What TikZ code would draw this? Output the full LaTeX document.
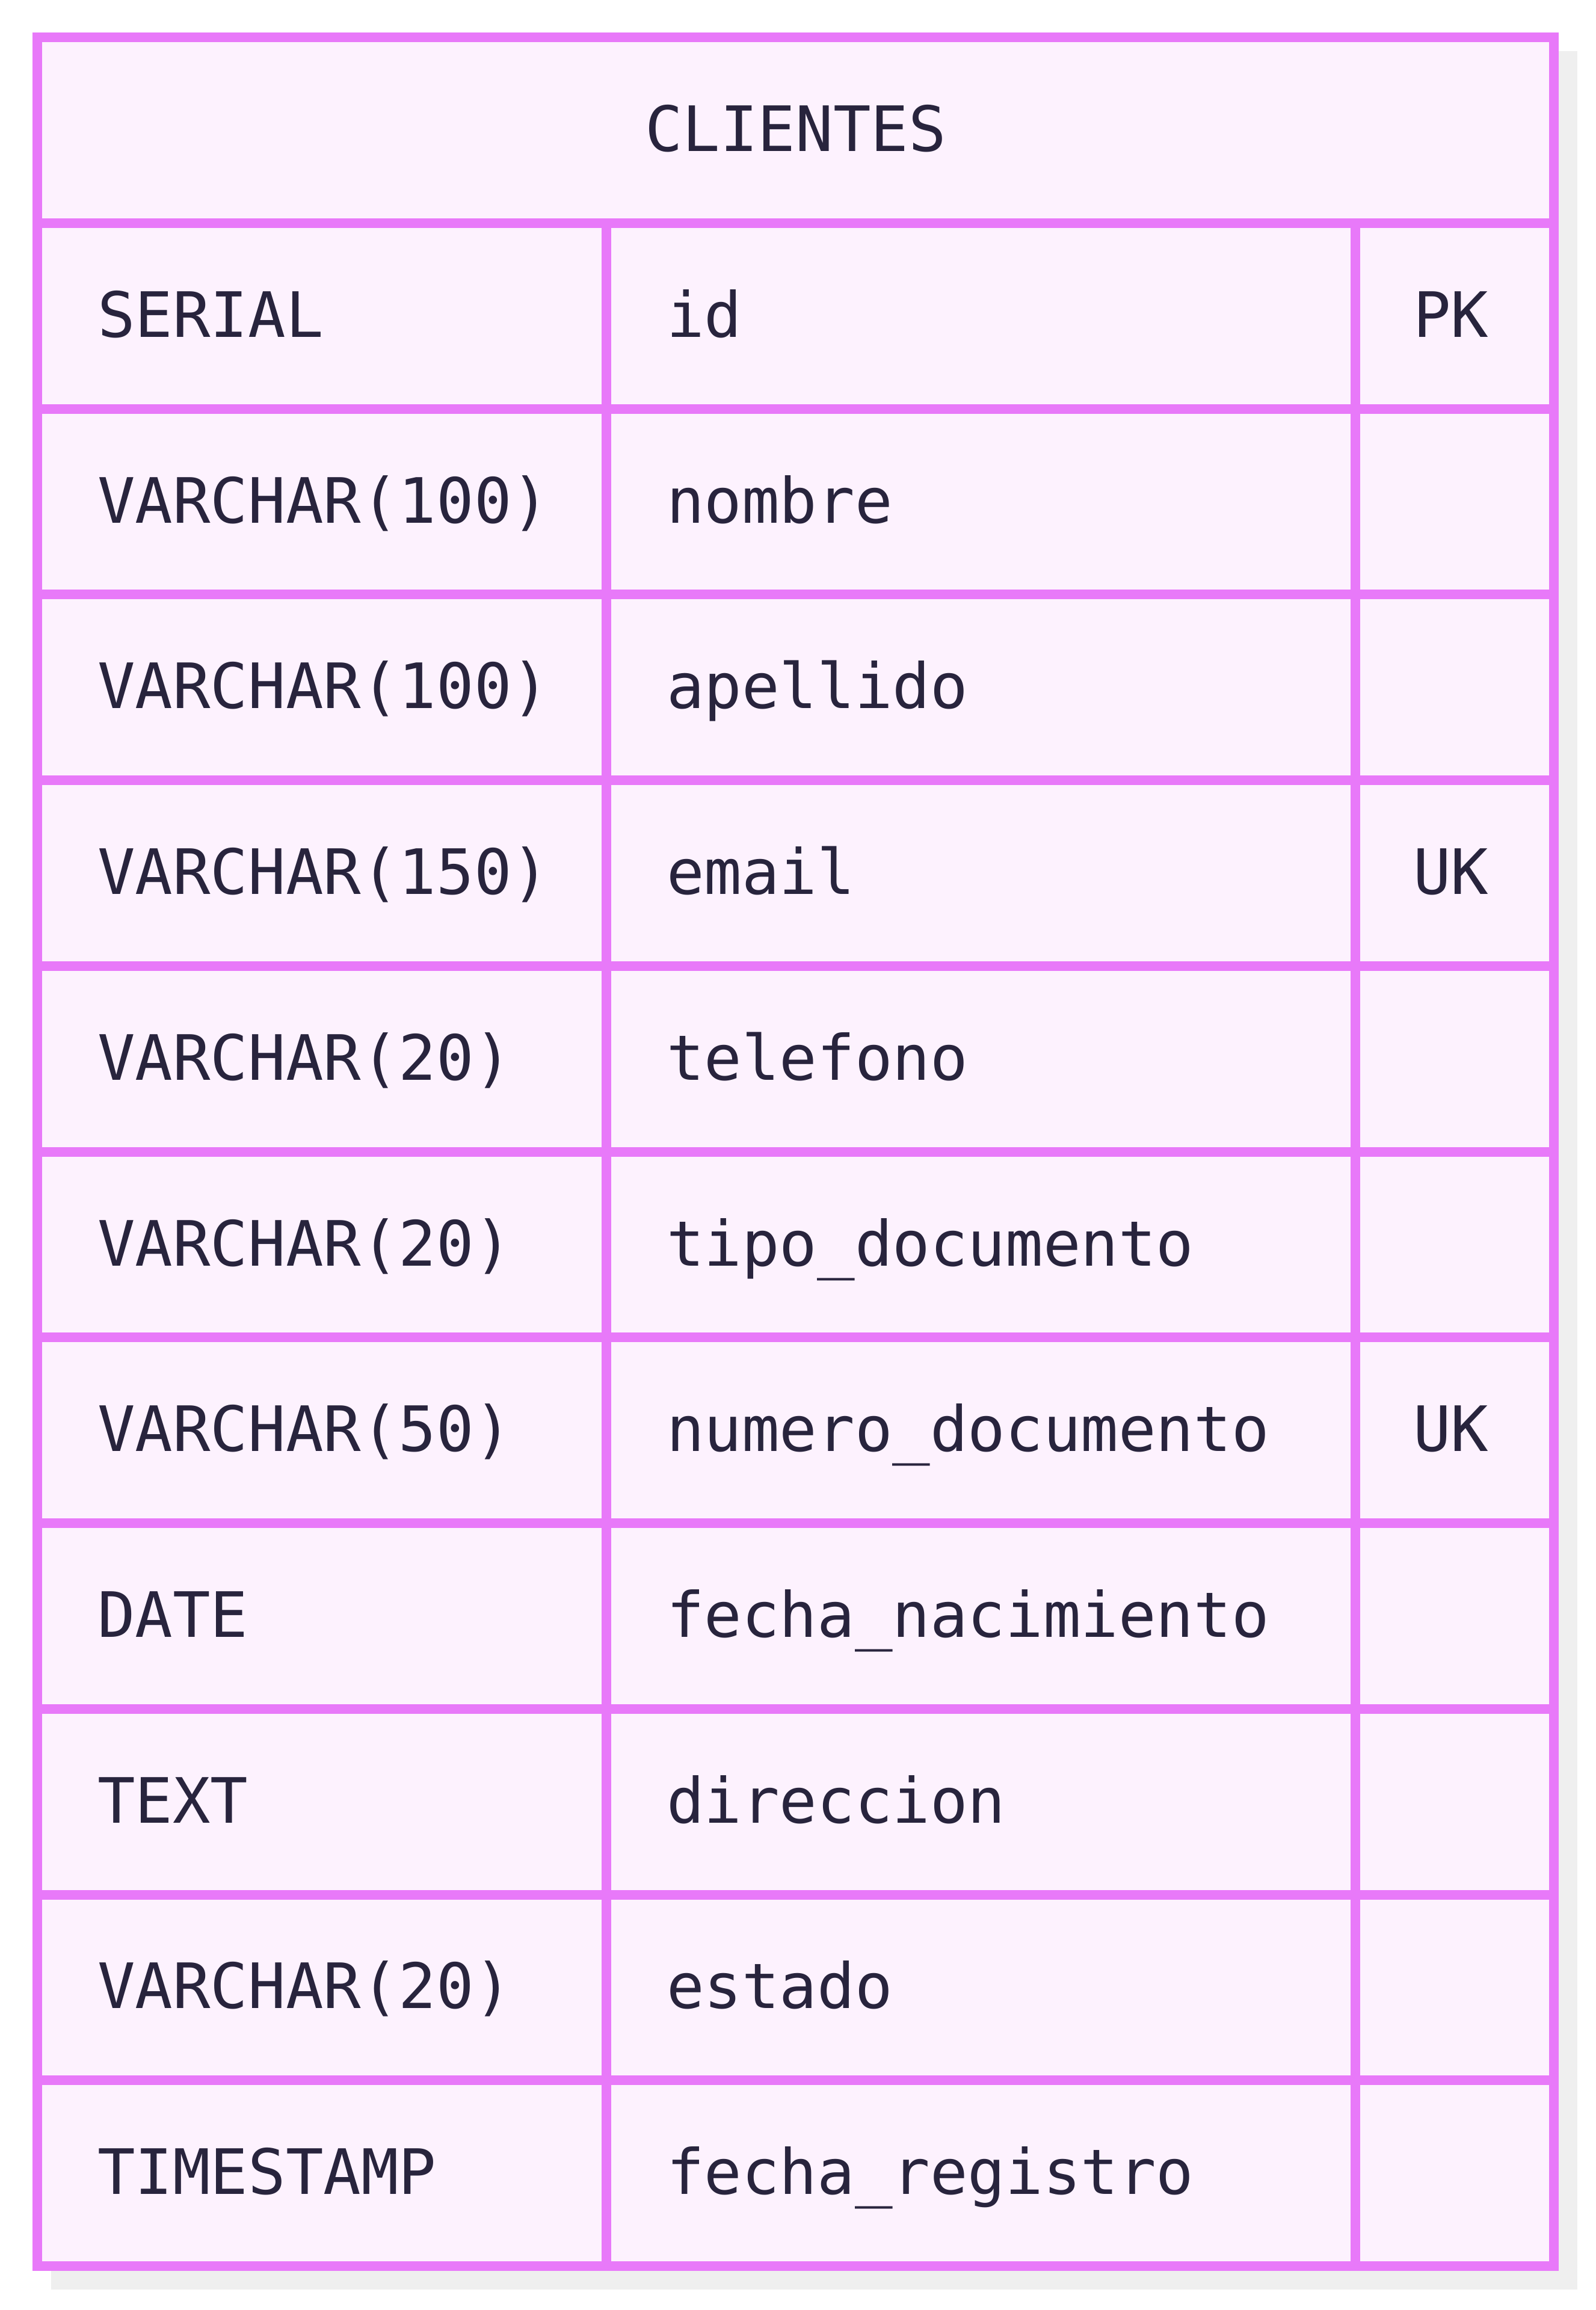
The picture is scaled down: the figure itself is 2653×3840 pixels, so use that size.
\documentclass[tikz,border=0pt]{standalone}
\usepackage{fontspec}
\newfontfamily\cellfont{DejaVu Sans Mono}
\definecolor{gridline}{HTML}{E879F9}
\definecolor{cellfill}{HTML}{FDF2FE}
\definecolor{shadowgray}{HTML}{EFEFEF}
\definecolor{ink}{HTML}{28243D}
\begin{document}
\begin{tikzpicture}[x=0.1pt,y=-0.1pt,
  grid/.style={draw=gridline,line width=1.6pt,line cap=butt},
  celltext/.style={anchor=base west,inner sep=0pt,text=ink,
    font=\cellfont\fontsize{10.4pt}{12pt}\selectfont},
  titletext/.style={anchor=base,inner sep=0pt,text=ink,
    font=\cellfont\fontsize{10.4pt}{12pt}\selectfont}]
\useasboundingbox (0,0) rectangle (2653,3840);
% drop shadow and table body
\fill[fill=shadowgray] (85,85) rectangle (2622,3806);
\fill[fill=cellfill] (62,62) rectangle (2583,3767);
% row separators
\foreach \k in {0,...,10}
  \draw[grid] (62,{371+\k*308.727}) -- (2583,{371+\k*308.727});
% column separators
\draw[grid] (1008,371) -- (1008,3767);
\draw[grid] (2253,371) -- (2253,3767);
% outer frame
\draw[grid] (62,54) -- (62,3775);
\draw[grid] (2583,54) -- (2583,3775);
\draw[grid] (54,62) -- (2591,62);
\draw[grid] (54,3767) -- (2591,3767);
% title
\node[titletext] (title) at (1322.5,251) {CLIENTES};
% attribute rows
\foreach \t/\f/\c [count=\i] in {
  SERIAL/id/PK,
  VARCHAR(100)/nombre/,
  VARCHAR(100)/apellido/,
  VARCHAR(150)/email/UK,
  VARCHAR(20)/telefono/,
  VARCHAR(20)/tipo\_documento/,
  VARCHAR(50)/numero\_documento/UK,
  DATE/fecha\_nacimiento/,
  TEXT/direccion/,
  VARCHAR(20)/estado/,
  TIMESTAMP/fecha\_registro/}{
  \pgfmathsetmacro{\yb}{371+(\i-0.5)*308.727+35}
  \node[celltext] (type\i) at (160,\yb) {\t};
  \node[celltext] (field\i) at (1106,\yb) {\f};
  \node[celltext] (key\i) at (2347,\yb) {\c};
}
\end{tikzpicture}
\end{document}
